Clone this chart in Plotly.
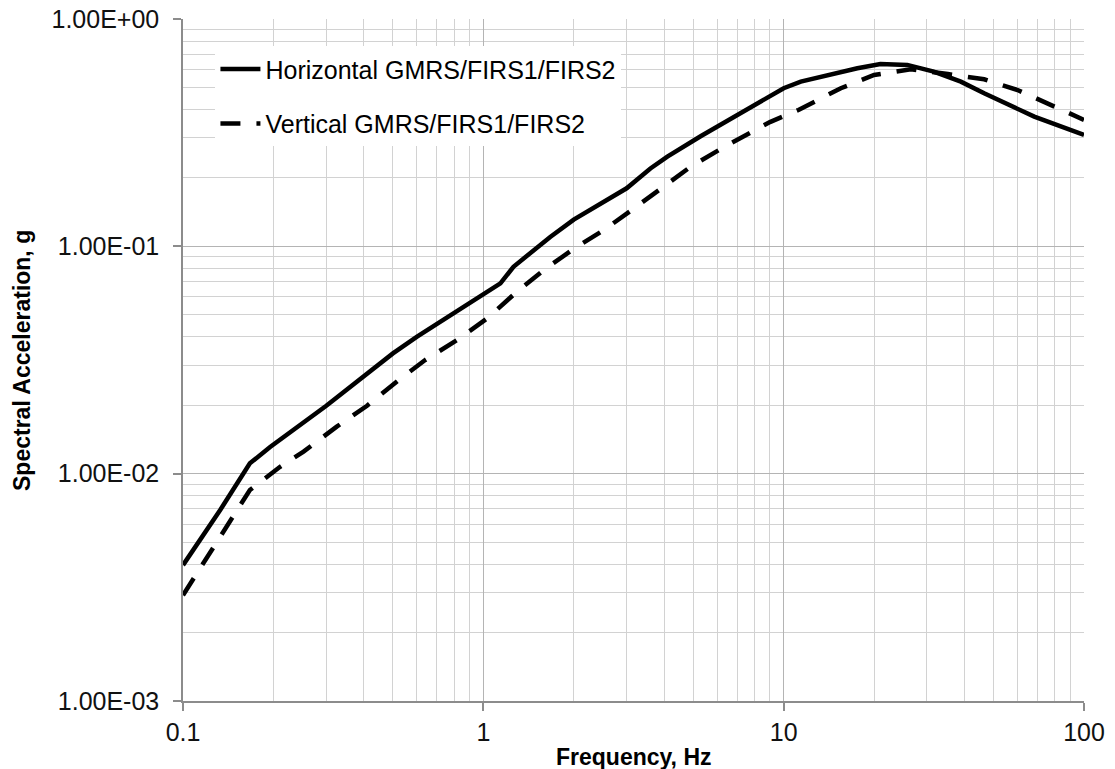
import plotly.graph_objects as go

# Horizontal GMRS/FIRS1/FIRS2 (solid)
h_freq = [0.1, 0.133, 0.167, 0.195, 0.3, 0.4, 0.5, 0.6, 0.8, 0.9, 1.14, 1.26, 1.51, 1.67, 2.0, 3.0, 3.6, 4.1, 5.29,
          6.83, 8.8, 10, 11.4, 14.7, 17.6, 21, 25.8, 31.6, 38.9, 46.5, 68.3, 100]
h_sa = [0.00396, 0.00692, 0.0111, 0.0131, 0.0199, 0.0267, 0.0338, 0.0400, 0.0507, 0.0565, 0.0687, 0.0813, 0.0996,
        0.110, 0.131, 0.180, 0.220, 0.248, 0.305, 0.372, 0.455, 0.496, 0.530, 0.577, 0.607, 0.634, 0.628, 0.587,
        0.530, 0.471, 0.372, 0.309]

# Vertical GMRS/FIRS1/FIRS2 (dashed)
v_freq = [0.1, 0.117, 0.14, 0.167, 0.21, 0.252, 0.325, 0.41, 0.522, 0.64, 0.817, 1.03, 1.29, 1.59, 2.0, 2.52,
          3.2, 4.9, 6.5, 9.0, 11.2, 15.5, 20, 26.5, 35.2, 46.5, 60.1, 79.6, 100]
v_sa = [0.00292, 0.00403, 0.00584, 0.00847, 0.0107, 0.0125, 0.0161, 0.0199, 0.0258, 0.0316, 0.0387, 0.0482,
        0.0630, 0.0787, 0.0975, 0.118, 0.148, 0.224, 0.279, 0.352, 0.398, 0.496, 0.567, 0.601, 0.573, 0.543,
        0.487, 0.411, 0.360]

x_tickvals = [0.1, 1, 10, 100]
x_ticktext = ["0.1", "1", "10", "100"]
y_tickvals = [0.001, 0.01, 0.1, 1]
y_ticktext = ["1.00E-03", "1.00E-02", "1.00E-01", "1.00E+00"]

x_title = "Frequency, Hz"
y_title = "Spectral Acceleration, g"

x_minor = [m * d for d in [0.1, 1, 10] for m in range(2, 10)]
y_minor = [m * d for d in [0.001, 0.01, 0.1] for m in range(2, 10)]

FONT = "Liberation Sans, Arial, sans-serif"

fig = go.Figure()
fig.add_trace(go.Scatter(x=h_freq, y=h_sa, mode="lines", name="Horizontal GMRS/FIRS1/FIRS2",
                         legendgroup="h", line=dict(color="black", width=4.5)))
fig.add_trace(go.Scatter(x=v_freq, y=v_sa, mode="lines", name="Vertical GMRS/FIRS1/FIRS2",
                         legendgroup="v", line=dict(color="black", width=4.5, dash="20px,16px")))

axis_common = dict(showline=True, linecolor="#8c8c8c", linewidth=1.5, mirror=False,
                   gridcolor="#b4b4b4", gridwidth=1, ticks="outside", ticklen=8,
                   tickcolor="#8c8c8c", tickwidth=1.5, zeroline=False,
                   tickfont=dict(family=FONT, size=25, color="#111111"))

fig.update_xaxes(type="log", range=[-1, 2], tickmode="array", tickvals=x_tickvals, ticktext=x_ticktext,
                 minor=dict(tickmode="array", tickvals=x_minor, showgrid=True, gridcolor="#d2d2d2",
                            gridwidth=1, ticks=""),
                 **axis_common)
fig.update_yaxes(type="log", range=[-3, 0], tickmode="array", tickvals=y_tickvals, ticktext=y_ticktext,
                 minor=dict(tickmode="array", tickvals=y_minor, showgrid=True, gridcolor="#d2d2d2",
                            gridwidth=1, ticks=""),
                 ticklabelstandoff=9, **axis_common)

fig.add_annotation(text="<b>" + x_title + "</b>", xref="paper", yref="paper", x=0.5, y=-0.082,
                   xanchor="center", yanchor="middle", showarrow=False,
                   font=dict(family=FONT, size=23, color="black"))
fig.add_annotation(text="<b>" + y_title + "</b>", xref="paper", yref="paper", x=-0.1787, y=0.5,
                   xanchor="center", yanchor="middle", showarrow=False, textangle=-90,
                   font=dict(family=FONT, size=23, color="black"))

fig.update_layout(
    width=1115, height=769,
    margin=dict(l=183, r=31, t=19, b=68, autoexpand=False),
    paper_bgcolor="white", plot_bgcolor="white",
    font=dict(family=FONT, color="black"),
    showlegend=True,
    legend=dict(x=0.036, y=0.96, xanchor="left", yanchor="top", bgcolor="white",
                font=dict(family=FONT, size=25, color="black"), traceorder="grouped",
                tracegroupgap=19, itemwidth=40),
)

fig.write_html("out.html", config={"displayModeBar": False},
               post_script="document.body.style.margin='0';document.body.style.padding='0';"
                           "document.documentElement.style.overflow='hidden';")
